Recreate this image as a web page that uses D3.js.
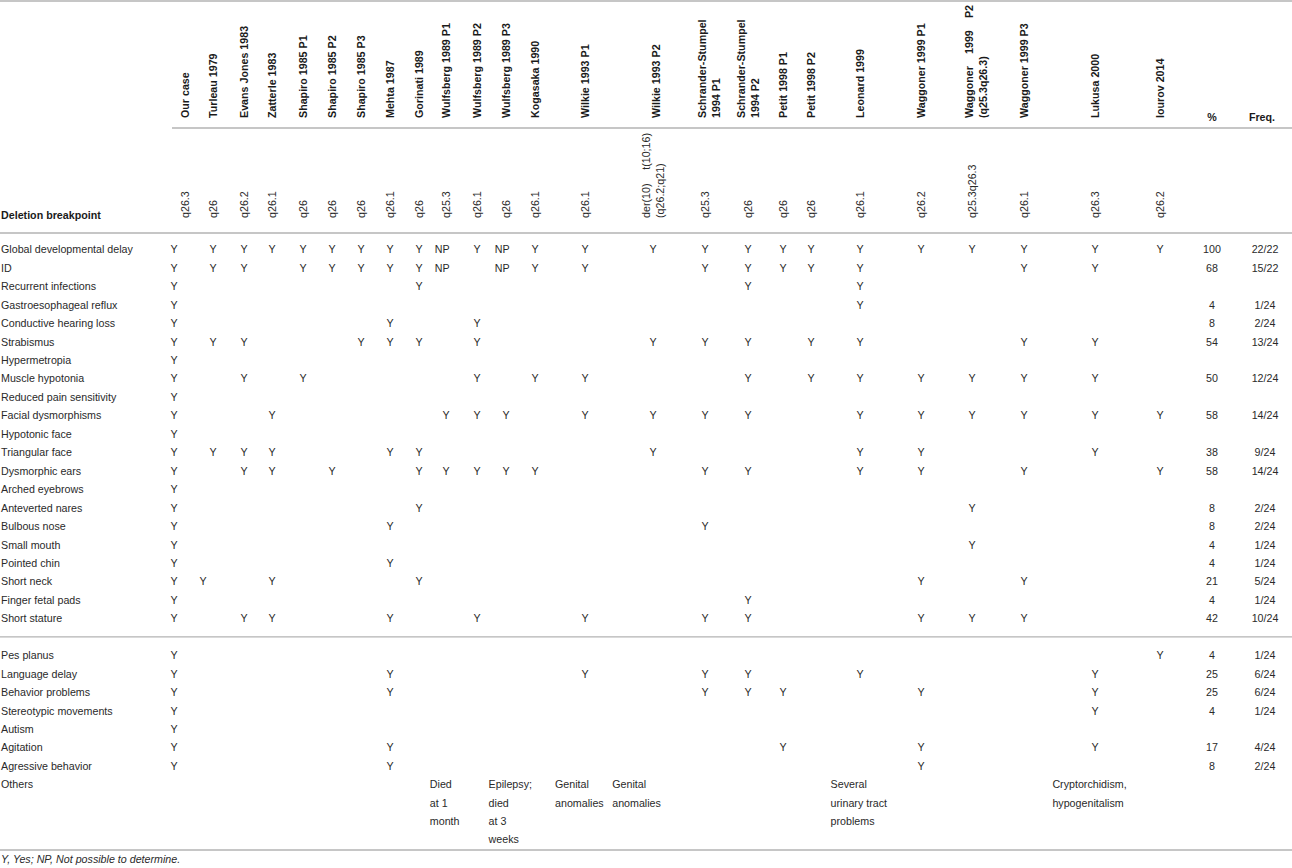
<!DOCTYPE html>
<html>
<head>
<meta charset="utf-8">
<title>Table</title>
<script src="https://cdn.jsdelivr.net/npm/d3@7"></script>
<style>
  body { margin: 0; background: #fff; }
  text { font-family: Arial, "Liberation Sans", Helvetica, sans-serif; fill: #2a2a2a; }
  text.bold { fill: #1a1a1a; }
</style>
</head>
<body>
<script>
// column headings (one entry per line of the rotated label)
var studies = [
  ["Our case"], ["Turleau 1979"], ["Evans Jones 1983"], ["Zatterle 1983"],
  ["Shapiro 1985 P1"], ["Shapiro 1985 P2"], ["Shapiro 1985 P3"], ["Mehta 1987"],
  ["Gorinati 1989"], ["Wulfsberg 1989 P1"], ["Wulfsberg 1989 P2"], ["Wulfsberg 1989 P3"],
  ["Kogasaka 1990"], ["Wilkie 1993 P1"], ["Wilkie 1993 P2"],
  ["Schrander-Stumpel", "1994 P1"], ["Schrander-Stumpel", "1994 P2"],
  ["Petit 1998 P1"], ["Petit 1998 P2"], ["Leonard 1999"], ["Waggoner 1999 P1"],
  ["Waggoner 1999 P2", "(q25.3q26.3)"], ["Waggoner 1999 P3"], ["Lukusa 2000"], ["Iourov 2014"]
];

var breakpoints = [
  ["q26.3"], ["q26"], ["q26.2"], ["q26.1"], ["q26"], ["q26"], ["q26"], ["q26.1"],
  ["q26"], ["q25.3"], ["q26.1"], ["q26"], ["q26.1"], ["q26.1"],
  ["der(10) t(10;16)", "(q26.2;q21)"],
  ["q25.3"], ["q26"], ["q26"], ["q26"], ["q26.1"], ["q26.2"], ["q25.3q26.3"],
  ["q26.1"], ["q26.3"], ["q26.2"]
];

var features = [
  "Global developmental delay", "ID", "Recurrent infections", "Gastroesophageal reflux",
  "Conductive hearing loss", "Strabismus", "Hypermetropia", "Muscle hypotonia",
  "Reduced pain sensitivity", "Facial dysmorphisms", "Hypotonic face", "Triangular face",
  "Dysmorphic ears", "Arched eyebrows", "Anteverted nares", "Bulbous nose", "Small mouth",
  "Pointed chin", "Short neck", "Finger fetal pads", "Short stature",
  "Pes planus", "Language delay", "Behavior problems", "Stereotypic movements", "Autism",
  "Agitation", "Agressive behavior", "Others"
];

// indices of the studies marked "Y" for each feature
var yesCols = [
  [0,1,2,3,4,5,6,7,8,10,12,13,14,15,16,17,18,19,20,21,22,23,24],
  [0,1,2,4,5,6,7,8,12,13,15,16,17,18,19,22,23],
  [0,8,16,19],
  [0,19],
  [0,7,10],
  [0,1,2,6,7,8,10,14,15,16,18,19,22,23],
  [0],
  [0,2,4,10,12,13,16,18,19,20,21,22,23],
  [0],
  [0,3,9,10,11,13,14,15,16,19,20,21,22,23,24],
  [0],
  [0,1,2,3,7,8,14,19,20,23],
  [0,2,3,5,8,9,10,11,12,15,16,19,20,22,24],
  [0],
  [0,8,21],
  [0,7,15],
  [0,21],
  [0,7],
  [0,1,3,8,20,22],
  [0,16],
  [0,2,3,7,10,13,15,16,20,21,22],
  [0,24],
  [0,7,13,15,16,19,23],
  [0,7,15,16,17,20,23],
  [0,23],
  [0],
  [0,7,17,20,23],
  [0,7,20],
  []
];

// "NP" cells (feature index, study index)
var npCells = [[0,9],[0,11],[1,9],[1,11]];

var percents = ["100","68","","4","8","54","","50","","58","","38","58","","8","8","4","4","21","4","42",
                "4","25","25","4","","17","8",""];
var freqs = ["22/22","15/22","","1/24","2/24","13/24","","12/24","","14/24","","9/24","14/24","","2/24","2/24",
             "1/24","1/24","5/24","1/24","10/24","1/24","6/24","6/24","1/24","","4/24","2/24",""];

var othersCols = [9, 11, 13, 14, 19, 23];
var othersText = [
  ["Died", "at 1", "month"],
  ["Epilepsy;", "died", "at 3", "weeks"],
  ["Genital", "anomalies"],
  ["Genital", "anomalies"],
  ["Several", "urinary tract", "problems"],
  ["Cryptorchidism,", "hypogenitalism"]
];

var footnote = "Y, Yes; NP, Not possible to determine.";

//画布
var width = 1292, height = 868;
var fs = 10.7;
var svg = d3.select("body").append("svg")
  .attr("width", width).attr("height", height);

// column centres (layout)
var colKeys = d3.range(studies.length).concat(["%", "Freq."]);
var colPos = [174,213,244,272,303,332,361,390,419,446,477,506,535,585,653,705,748,783,811,860,921,972,1024,1095,1160,1212,1265];
var x = d3.scaleOrdinal().domain(colKeys).range(colPos);
// small nudges of the rotated heading blocks
var headShift = {0: 11, 14: 3, 15: 4, 21: 4};
function hx(i) { return x(i) + (headShift[i] || 0); }
// the one "Y" that sits off its column in the original (Short neck / Turleau)
var cellNudge = {"18-1": -10};

// rows: one blank row-step between "Short stature" and "Pes planus"
var rowStep = d3.scaleLinear().domain([0, 1]).range([249.5, 249.5 + 18.45]);
function rowY(i) { return rowStep(i >= 21 ? i + 1 : i); }

var lineColor = "#b3b3b3";
function hline(y, x0) {
  svg.append("line").attr("x1", x0 || 0).attr("x2", width)
    .attr("y1", y).attr("y2", y)
    .attr("stroke", lineColor).attr("stroke-width", 1.3);
}
hline(1);
hline(128, 172);
hline(233);
hline((rowY(20) + rowY(21)) / 2);
hline(850);

// rotated multi-line label; non-last lines are justified over "span"
function rotated(cx, yBottom, lines, span, bold) {
  var lh = 13.5;
  var g = svg.append("g").attr("transform", "translate(" + cx + "," + yBottom + ") rotate(-90)");
  lines.forEach(function(line, k) {
    var b = 3.8 + (k - (lines.length - 1) / 2) * lh;
    var words = line.split(" ");
    if (k < lines.length - 1 && words.length > 1) {
      var ts = words.map(function(w) {
        return g.append("text").attr("class", bold ? "bold" : null).attr("y", b).attr("font-size", fs)
          .attr("font-weight", bold ? "bold" : null).text(w);
      });
      var lens = ts.map(function(t) { return t.node().getComputedTextLength(); });
      var gap = (span - d3.sum(lens)) / (words.length - 1);
      var pos = 0;
      ts.forEach(function(t, j) { t.attr("x", pos); pos += lens[j] + gap; });
    } else {
      g.append("text").attr("class", bold ? "bold" : null).attr("x", 0).attr("y", b).attr("font-size", fs)
        .attr("font-weight", bold ? "bold" : null).text(line);
    }
  });
}

// header labels
studies.forEach(function(lines, i) {
  rotated(hx(i), 118, lines, 113, true);
});
svg.append("text").attr("class", "bold").attr("x", x("%")).attr("y", 121).attr("text-anchor", "middle")
  .attr("font-size", fs).attr("font-weight", "bold").text("%");
svg.append("text").attr("class", "bold").attr("x", x("Freq.") - 3).attr("y", 121).attr("text-anchor", "middle")
  .attr("font-size", fs).attr("font-weight", "bold").text("Freq.");

// deletion breakpoints
svg.append("text").attr("class", "bold").attr("x", 1).attr("y", 219).attr("font-size", fs)
  .attr("font-weight", "bold").text("Deletion breakpoint");
breakpoints.forEach(function(lines, i) {
  rotated(x(i) + (i === 0 ? 11 : 0), 218, lines, 85, false);
});

// feature names
svg.selectAll(".feat").data(features).enter().append("text")
  .attr("class", "feat")
  .attr("x", 1)
  .attr("y", function(d, i) { return rowY(i) + 3.8; })
  .attr("font-size", fs)
  .text(function(d) { return d; });

// Y / NP cells
var cells = [];
yesCols.forEach(function(cols, r) { cols.forEach(function(c) { cells.push({r: r, c: c, t: "Y"}); }); });
npCells.forEach(function(p) { cells.push({r: p[0], c: p[1], t: "NP"}); });
svg.selectAll(".cell").data(cells).enter().append("text")
  .attr("class", "cell")
  .attr("x", function(d) { return x(d.c) + 3.6 + (cellNudge[d.r + "-" + d.c] || 0); })
  .attr("y", function(d) { return rowY(d.r) + 3.8; })
  .attr("text-anchor", "end")
  .attr("font-size", fs)
  .text(function(d) { return d.t; });

// % and frequency
svg.selectAll(".pct").data(percents).enter().append("text")
  .attr("x", x("%")).attr("y", function(d, i) { return rowY(i) + 3.8; })
  .attr("text-anchor", "middle").attr("font-size", fs)
  .text(function(d) { return d; });
svg.selectAll(".frq").data(freqs).enter().append("text")
  .attr("x", x("Freq.")).attr("y", function(d, i) { return rowY(i) + 3.8; })
  .attr("text-anchor", "middle").attr("font-size", fs)
  .text(function(d) { return d; });

// "Others" notes, left aligned in their cells
var othersRow = features.length - 1;
othersCols.forEach(function(c, k) {
  var left = x(c) - 0.6 * (x(c) - x(c - 1));
  othersText[k].forEach(function(line, j) {
    svg.append("text").attr("x", left)
      .attr("y", rowY(othersRow) + 3.8 + j * 18.2)
      .attr("font-size", fs).text(line);
  });
});

svg.append("text").attr("x", 1).attr("y", 863).attr("font-size", fs)
  .attr("font-style", "italic").text(footnote);
</script>
</body>
</html>
